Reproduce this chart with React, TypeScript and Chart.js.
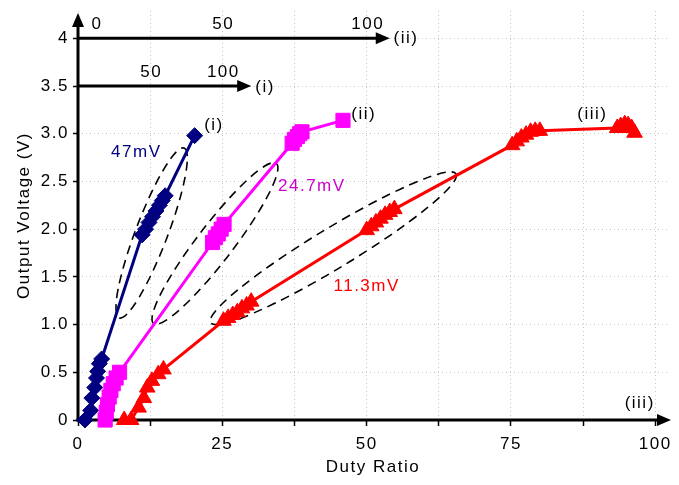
import React, { useEffect, useRef } from 'react';
import { Chart, registerables } from 'chart.js';

Chart.register(...registerables);

// ---------- data (x in units of the main Duty Ratio axis (iii)) ----------
const seriesIX = [1.2, 2.2, 2.4, 2.9, 3.2, 3.4, 3.7, 4.1, 11.1, 11.7, 12.3, 12.9, 13.5, 14.1, 14.6, 15.1, 20.2];
const seriesIY = [0.0, 0.1, 0.23, 0.34, 0.44, 0.51, 0.59, 0.64, 1.94, 2.0, 2.07, 2.13, 2.19, 2.25, 2.3, 2.35, 2.98];

const seriesIIX = [4.7, 4.9, 5.1, 5.4, 5.7, 6.1, 6.6, 7.2, 23.3, 23.8, 24.3, 24.8, 25.3, 37.1, 37.5, 38.0, 38.4, 38.8, 45.9];
const seriesIIY = [0.0, 0.08, 0.16, 0.24, 0.31, 0.38, 0.44, 0.5, 1.86, 1.91, 1.95, 2.0, 2.05, 2.9, 2.94, 2.97, 3.0, 3.02, 3.14];

const seriesIIIX = [8.0, 9.2, 10.5, 11.4, 12.0, 12.8, 13.9, 14.8, 25.2, 26.0, 26.8, 27.6, 28.4, 29.2, 30.0, 50.0, 50.8, 51.6, 52.4, 53.2, 54.0, 54.8, 75.2, 76.0, 76.8, 77.6, 78.4, 79.2, 80.0, 93.4, 94.0, 94.7, 95.3, 95.9, 96.4];
const seriesIIIY = [0.0, 0.0, 0.13, 0.23, 0.34, 0.41, 0.48, 0.53, 1.04, 1.07, 1.1, 1.13, 1.17, 1.2, 1.24, 1.99, 2.03, 2.07, 2.11, 2.15, 2.18, 2.21, 2.88, 2.92, 2.96, 2.99, 3.02, 3.03, 3.03, 3.06, 3.08, 3.1, 3.09, 3.06, 3.01];

// ---------- axes ----------
const X_MAX = 102.2;
const Y_MAX = 4.286;
const xTickValues = [0, 12.5, 25, 37.5, 50, 62.5, 75, 87.5, 100];
const xTickLabels = ['0', '', '25', '', '50', '', '75', '', '100'];
const yTickValues = [0, 0.5, 1, 1.5, 2, 2.5, 3, 3.5, 4];
const yTickLabels = ['0', '0.5', '1.0', '1.5', '2.0', '2.5', '3.0', '3.5', '4'];

// secondary duty-ratio axes drawn inside the plot
const axisIValue = 3.5;      // voltage level where axis (i) is drawn
const axisIFactor = 0.25;    // (i) duty -> main axis
const axisITicks = [50, 100];
const axisIMax = 120;
const axisIIValue = 4;
const axisIIFactor = 0.5;
const axisIITicks = [0, 50, 100];
const axisIIMax = 108;

// ---------- annotations ----------
const noteTexts = ['(i)', '(ii)', '(iii)', '47mV', '24.7mV', '11.3mV', '(iii)', '(i)', '(ii)'];
const noteX = [23.55, 49.5, 89.1, 10.1, 40.5, 50.0, 97.3, 32.4, 56.8];
const noteY = [3.09, 3.2, 3.2, 2.8, 2.45, 1.4, 0.17, 3.49, 4.0];
const noteColors = ['#000000', '#000000', '#000000', '#000080', '#CC00CC', '#FF0000', '#000000', '#000000', '#000000'];

// dashed ellipses: [x1, y1, x2, y2] end points of major axis
const ellipseEnds = [
  [7.14, 1.07, 18.37, 2.85],
  [13.1, 1.01, 34.35, 2.69],
  [22.96, 1.02, 65.48, 2.58],
];
const ellipseHalfWidths = [16, 18, 20];

const FONT = "'Liberation Sans', Arial, Helvetica, sans-serif";
const SPACING = '1.5px';

function zip(xs: number[], ys: number[]) {
  return xs.map((x, i) => ({ x, y: ys[i] }));
}

function arrowHead(ctx: CanvasRenderingContext2D, tx: number, ty: number, dir: 'right' | 'up') {
  const len = 14, half = 6;
  ctx.beginPath();
  if (dir === 'right') {
    ctx.moveTo(tx, ty);
    ctx.lineTo(tx - len, ty - half);
    ctx.lineTo(tx - len, ty + half);
  } else {
    ctx.moveTo(tx, ty);
    ctx.lineTo(tx - half, ty + len);
    ctx.lineTo(tx + half, ty + len);
  }
  ctx.closePath();
  ctx.fill();
}

const overlayPlugin = {
  id: 'overlay',
  beforeDraw(chart: any) {
    chart.ctx.letterSpacing = SPACING;
  },
  beforeDatasetsDraw(chart: any) {
    const { ctx, chartArea } = chart;
    const xs = chart.scales.x, ys = chart.scales.y;
    ctx.save();
    // ellipses
    ctx.strokeStyle = '#000';
    ctx.lineWidth = 1.6;
    ctx.setLineDash([9, 6]);
    ellipseEnds.forEach((e, i) => {
      const p1x = xs.getPixelForValue(e[0]), p1y = ys.getPixelForValue(e[1]);
      const p2x = xs.getPixelForValue(e[2]), p2y = ys.getPixelForValue(e[3]);
      const cx = (p1x + p2x) / 2, cy = (p1y + p2y) / 2;
      const a = Math.hypot(p2x - p1x, p2y - p1y) / 2;
      const ang = Math.atan2(p2y - p1y, p2x - p1x);
      ctx.beginPath();
      ctx.ellipse(cx, cy, a, ellipseHalfWidths[i], ang, 0, Math.PI * 2);
      ctx.stroke();
    });
    ctx.setLineDash([]);
    // main axes
    ctx.strokeStyle = '#000';
    ctx.fillStyle = '#000';
    ctx.lineWidth = 3;
    const x0 = xs.getPixelForValue(0);
    const y0 = ys.getPixelForValue(0);
    ctx.beginPath();
    ctx.moveTo(x0 - 1.5, y0);
    ctx.lineTo(chartArea.right - 10, y0);
    ctx.stroke();
    arrowHead(ctx, chartArea.right + 3, y0, 'right');
    ctx.beginPath();
    ctx.moveTo(x0, y0 + 1.5);
    ctx.lineTo(x0, chartArea.top + 12);
    ctx.stroke();
    arrowHead(ctx, x0, chartArea.top + 2, 'up');
    // secondary axes
    const drawSec = (level: number, factor: number, max: number) => {
      const py = ys.getPixelForValue(level);
      const tip = xs.getPixelForValue(max * factor);
      ctx.beginPath();
      ctx.moveTo(x0, py);
      ctx.lineTo(tip - 10, py);
      ctx.stroke();
      arrowHead(ctx, tip, py, 'right');
    };
    drawSec(axisIValue, axisIFactor, axisIMax);
    drawSec(axisIIValue, axisIIFactor, axisIIMax);
    ctx.restore();
  },
  afterDatasetsDraw(chart: any) {
    const { ctx } = chart;
    const xs = chart.scales.x, ys = chart.scales.y;
    ctx.save();
    ctx.letterSpacing = SPACING;
    ctx.font = `17px ${FONT}`;
    ctx.textAlign = 'center';
    ctx.textBaseline = 'middle';
    noteTexts.forEach((t, i) => {
      ctx.fillStyle = noteColors[i];
      ctx.fillText(t, xs.getPixelForValue(noteX[i]), ys.getPixelForValue(noteY[i]));
    });
    ctx.fillStyle = '#000';
    const secLabels = (level: number, factor: number, ticks: number[]) => {
      const py = ys.getPixelForValue(level) - 14;
      ticks.forEach((v) => {
        const px = xs.getPixelForValue(v * factor) + (v === 0 ? 19 : 1);
        ctx.fillText(String(v), px, py);
      });
    };
    secLabels(axisIValue, axisIFactor, axisITicks);
    secLabels(axisIIValue, axisIIFactor, axisIITicks);
    ctx.restore();
  },
};

function makeDataset(xs: number[], ys: number[], color: string, style: string, radius: number) {
  return {
    data: zip(xs, ys),
    borderColor: color,
    backgroundColor: color,
    borderWidth: 3,
    pointStyle: style,
    pointRadius: radius,
    pointBackgroundColor: color,
    pointBorderColor: color,
    pointBorderWidth: 1,
    tension: 0,
    clip: false,
  };
}

export default function App() {
  const ref = useRef<HTMLCanvasElement>(null);
  useEffect(() => {
    document.body.style.margin = '0';
    const canvas = ref.current!;
    const chart = new Chart(canvas, {
      type: 'line',
      data: {
        datasets: [
          makeDataset(seriesIIIX, seriesIIIY, '#FF0000', 'triangle', 9),
          makeDataset(seriesIIX, seriesIIY, '#FF00FF', 'rect', 10),
          makeDataset(seriesIX, seriesIY, '#000080', 'rectRot', 8),
        ] as any,
      },
      options: {
        animation: false,
        responsive: false,
        maintainAspectRatio: false,
        layout: { padding: 0 },
        plugins: { legend: { display: false }, tooltip: { enabled: false } },
        scales: {
          x: {
            type: 'linear',
            min: 0,
            max: X_MAX,
            afterBuildTicks: (s: any) => {
              s.ticks = xTickValues.map((v) => ({ value: v }));
            },
            afterFit: (s: any) => {
              s.height = 65;
              s.paddingLeft = 0;
              s.paddingRight = 0;
            },
            ticks: {
              autoSkip: false,
              maxRotation: 0,
              padding: 8,
              color: '#000',
              font: { family: FONT, size: 17 },
              callback: (_v: any, i: number) => xTickLabels[i],
            },
            grid: { color: '#c8c8c8', lineWidth: 1, tickColor: '#000', tickLength: 6, tickWidth: 1.5 },
            border: { display: false, dash: [1, 3] },
            title: {
              display: true,
              text: 'Duty Ratio',
              color: '#000',
              font: { family: FONT, size: 17 },
              padding: { top: 0, bottom: 7 },
            },
          },
          y: {
            type: 'linear',
            min: 0,
            max: Y_MAX,
            afterBuildTicks: (s: any) => {
              s.ticks = yTickValues.map((v) => ({ value: v }));
            },
            afterFit: (s: any) => {
              s.width = 78;
              s.paddingTop = 0;
              s.paddingBottom = 0;
            },
            ticks: {
              autoSkip: false,
              padding: 4,
              color: '#000',
              font: { family: FONT, size: 17 },
              callback: (_v: any, i: number) => yTickLabels[i],
            },
            grid: { color: '#c8c8c8', lineWidth: 1, tickColor: '#000', tickLength: 5, tickWidth: 1.5 },
            border: { display: false, dash: [1, 3] },
            title: {
              display: true,
              text: 'Output Voltage (V)',
              color: '#000',
              font: { family: FONT, size: 17 },
              padding: { top: 14, bottom: 0 },
            },
          },
        },
      },
      plugins: [overlayPlugin],
    } as any);
    return () => chart.destroy();
  }, []);
  return (
    <div style={{ position: 'fixed', left: 0, top: 0, width: 679, height: 485, background: '#fff' }}>
      <canvas ref={ref} width={679} height={485} style={{ width: 679, height: 485, display: 'block' }} />
    </div>
  );
}
